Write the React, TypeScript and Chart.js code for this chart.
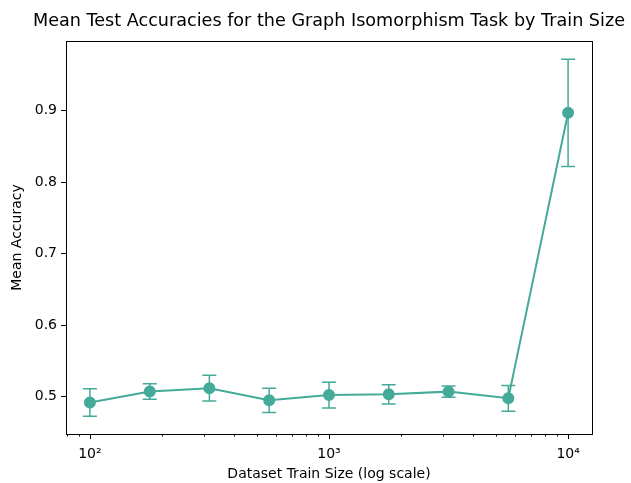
import React, { useEffect, useRef } from "react";
import { Chart, registerables } from "chart.js";

Chart.register(...registerables);

const trainSizes = [100, 178, 316, 562, 1000, 1778, 3162, 5623, 10000];
const meanAcc = [0.4916, 0.507, 0.5116, 0.4947, 0.502, 0.503, 0.5068, 0.4975, 0.897];
const errAcc = [0.0192, 0.0107, 0.018, 0.017, 0.018, 0.0135, 0.008, 0.018, 0.075];
const yTickValues = [0.5, 0.6, 0.7, 0.8, 0.9];
const xMajorTicks = [100, 1000, 10000];
const xMajorLabels = ["10²", "10³", "10⁴"];

const TITLE = "Mean Test Accuracies for the Graph Isomorphism Task by Train Size";
const X_TITLE = "Dataset Train Size (log scale)";
const Y_TITLE = "Mean Accuracy";
const COLOR = "#44AA99";
const FONT = "'DejaVu Sans', sans-serif";

export default function App() {
  const ref = useRef<HTMLCanvasElement | null>(null);

  useEffect(() => {
    const canvas = ref.current;
    if (!canvas) return;

    const overlay = {
      id: "overlay",
      beforeDatasetsDraw(chart: any) {
        const ctx = chart.ctx;
        const xs = chart.scales.x;
        const ys = chart.scales.y;
        ctx.save();
        ctx.strokeStyle = COLOR;
        ctx.lineWidth = 1.5;
        trainSizes.forEach((t, i) => {
          const px = xs.getPixelForValue(t);
          const top = ys.getPixelForValue(meanAcc[i] + errAcc[i]);
          const bot = ys.getPixelForValue(meanAcc[i] - errAcc[i]);
          ctx.beginPath();
          ctx.moveTo(px, top);
          ctx.lineTo(px, bot);
          ctx.moveTo(px - 7, top);
          ctx.lineTo(px + 7, top);
          ctx.moveTo(px - 7, bot);
          ctx.lineTo(px + 7, bot);
          ctx.stroke();
        });
        ctx.restore();
      },
      afterDraw(chart: any) {
        const ctx = chart.ctx;
        const a = chart.chartArea;
        const xs = chart.scales.x;
        ctx.save();
        ctx.strokeStyle = "#000";
        ctx.lineWidth = 1;
        ctx.strokeRect(Math.round(a.left) + 0.5, Math.round(a.top) + 0.5, Math.round(a.right - a.left), Math.round(a.bottom - a.top));
        ctx.beginPath();
        xs.ticks.forEach((tk: any) => {
          const px = Math.round(xs.getPixelForValue(tk.value)) + 0.5;
          const len = tk.major ? 5 : 2.5;
          ctx.moveTo(px, a.bottom);
          ctx.lineTo(px, a.bottom + len);
        });
        ctx.stroke();
        ctx.fillStyle = "#000";
        ctx.font = `17.6px ${FONT}`;
        ctx.textAlign = "center";
        ctx.textBaseline = "middle";
        ctx.fillText(TITLE, (a.left + a.right) / 2, 21.5);
        ctx.restore();
      },
    };

    const chart = new Chart(canvas, {
      type: "line",
      data: {
        datasets: [
          {
            data: trainSizes.map((t, i) => ({ x: t, y: meanAcc[i] })),
            borderColor: COLOR,
            backgroundColor: COLOR,
            borderWidth: 2,
            pointRadius: 5,
            pointHoverRadius: 5,
            pointBackgroundColor: COLOR,
            pointBorderColor: COLOR,
            tension: 0,
          },
        ],
      },
      options: {
        animation: false,
        responsive: false,
        maintainAspectRatio: false,
        layout: { padding: { top: 41, right: 39, left: 0, bottom: 0 } },
        plugins: {
          legend: { display: false },
          tooltip: { enabled: false },
          title: { display: false },
        },
        scales: {
          x: {
            type: "logarithmic",
            min: Math.pow(10, 1.9),
            max: Math.pow(10, 4.1),
            afterBuildTicks(scale: any) {
              const ticks: any[] = [];
              for (let e = 1; e <= 4; e++) {
                for (let m = 1; m <= 9; m++) {
                  const v = m * Math.pow(10, e);
                  if (v >= scale.min && v <= scale.max) {
                    ticks.push({ value: v, major: m === 1 });
                  }
                }
              }
              scale.ticks = ticks;
            },
            afterFit(scale: any) {
              scale.height = 49;
            },
            grid: { display: false },
            border: { display: false },
            ticks: {
              autoSkip: false,
              maxRotation: 0,
              padding: 4,
              color: "#000",
              font: { family: FONT, size: 14 },
              callback(value: any) {
                const idx = xMajorTicks.indexOf(Number(value));
                return idx >= 0 ? xMajorLabels[idx] : "";
              },
            },
            title: {
              display: true,
              text: X_TITLE,
              color: "#000",
              font: { family: FONT, size: 14 },
              padding: { top: 0, bottom: 0 },
            },
          },
          y: {
            type: "linear",
            min: 0.4475,
            max: 0.9975,
            afterBuildTicks(scale: any) {
              scale.ticks = yTickValues.map((v) => ({ value: v }));
            },
            afterFit(scale: any) {
              scale.width = 66;
            },
            grid: {
              drawOnChartArea: false,
              tickLength: 5,
              tickColor: "#000",
              tickWidth: 1,
            },
            border: { display: false },
            ticks: {
              padding: 4,
              color: "#000",
              font: { family: FONT, size: 14 },
              callback(value: any) {
                return Number(value).toFixed(1);
              },
            },
            title: {
              display: true,
              text: Y_TITLE,
              color: "#000",
              font: { family: FONT, size: 14 },
              padding: { top: 9, bottom: 0 },
            },
          },
        },
      },
      plugins: [overlay],
    });

    return () => chart.destroy();
  }, []);

  return (
    <div style={{ position: "fixed", left: 0, top: 0, width: 631, height: 483, background: "#fff" }}>
      <canvas ref={ref} width={631} height={483} style={{ display: "block", width: 631, height: 483 }} />
    </div>
  );
}
